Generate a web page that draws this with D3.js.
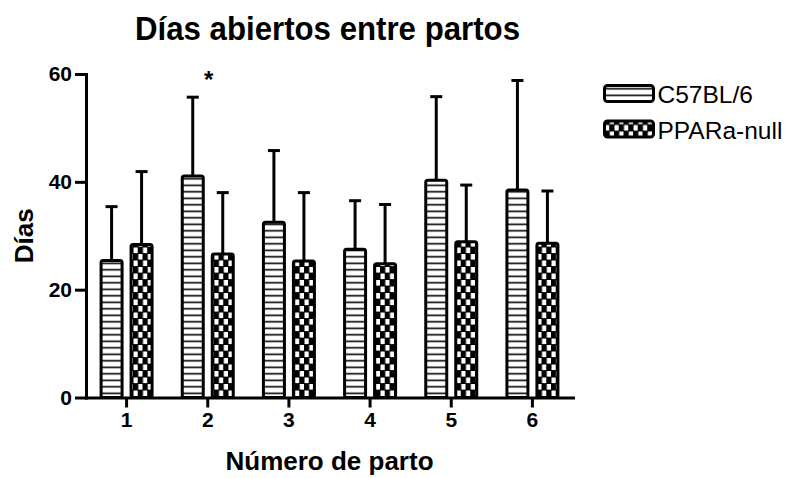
<!DOCTYPE html>
<html>
<head>
<meta charset="utf-8">
<script src="https://cdn.jsdelivr.net/npm/d3@7"></script>
<style>
    body { margin: 0; background: #fff; }
    text { font-family: "Liberation Sans", Arial, sans-serif; fill: #000; }
    .axis path, .axis line { stroke: #000; stroke-width: 3; }
    .axis path { stroke-linecap: square; }
    .axis text { font-size: 21px; font-weight: bold; }
</style>
</head>
<body>
<div id="chart"></div>
<script>
/*
1. DATA
*/
const partos = ["1", "2", "3", "4", "5", "6"];
const series = ["C57BL/6", "PPARa-null"];
const meanC57 = [25.4, 41.1, 32.5, 27.5, 40.3, 38.5];
const errC57 = [10.0, 14.6, 13.3, 9.0, 15.5, 20.3];
const meanPPAR = [28.4, 26.6, 25.3, 24.8, 28.9, 28.6];
const errPPAR = [13.5, 11.4, 12.7, 11.0, 10.5, 9.7];
const yTicks = [0, 20, 40, 60];
const significant = ["2"];   // asterisk above these partos

const data = [];
partos.forEach(function(p, i) {
    data.push({parto: p, serie: series[0], mean: meanC57[i], err: errC57[i]});
    data.push({parto: p, serie: series[1], mean: meanPPAR[i], err: errPPAR[i]});
});

/*
2. SVG CANVAS
*/
const width = 796;
const height = 478;
const margin = {top: 74, left: 86, right: 223, bottom: 80.5};

const svg = d3.select("#chart")
    .append("svg")
    .attr("width", width)
    .attr("height", height);

// fill patterns: stripes for C57BL/6, checks for PPARa-null
const defs = svg.append("defs");

const stripes = defs.append("pattern")
    .attr("id", "stripes")
    .attr("patternUnits", "userSpaceOnUse")
    .attr("width", 8)
    .attr("height", 6.5);
stripes.append("rect").attr("width", 8).attr("height", 6.5).attr("fill", "#fff");
stripes.append("rect").attr("y", 2.5).attr("width", 8).attr("height", 1.6).attr("fill", "#000");

const checks = defs.append("pattern")
    .attr("id", "checks")
    .attr("patternUnits", "userSpaceOnUse")
    .attr("width", 9.5)
    .attr("height", 13);
checks.append("rect").attr("width", 9.5).attr("height", 13).attr("fill", "#000");
checks.append("rect").attr("x", 0.5).attr("y", 0.5).attr("width", 4.2).attr("height", 5.6).attr("fill", "#fff");
checks.append("rect").attr("x", 5.3).attr("y", 7).attr("width", 4.2).attr("height", 5.6).attr("fill", "#fff");

/*
3. SCALES
*/
const xScale = d3.scaleBand()
    .domain(partos)
    .range([margin.left, width - margin.right]);

const xInner = d3.scaleBand()
    .domain(series)
    .range([xScale.bandwidth() / 2 - 25.5, xScale.bandwidth() / 2 + 25.5])
    .paddingInner(0.3);

const yScale = d3.scaleLinear()
    .domain([0, 60])
    .range([height - margin.bottom, margin.top]);

const fillScale = d3.scaleOrdinal()
    .domain(series)
    .range(["url(#stripes)", "url(#checks)"]);

/*
4. ERROR BARS (drawn first so the bars cover the bottom of the line)
*/
const errG = svg.append("g")
    .attr("stroke", "#000")
    .attr("stroke-width", 3);

errG.selectAll("line.whisker")
    .data(data)
    .enter()
    .append("line")
        .attr("class", "whisker")
        .attr("x1", function(d) { return xScale(d.parto) + xInner(d.serie) + xInner.bandwidth() / 2; })
        .attr("x2", function(d) { return xScale(d.parto) + xInner(d.serie) + xInner.bandwidth() / 2; })
        .attr("y1", function(d) { return yScale(d.mean); })
        .attr("y2", function(d) { return yScale(d.mean + d.err); });

errG.selectAll("line.cap")
    .data(data)
    .enter()
    .append("line")
        .attr("class", "cap")
        .attr("x1", function(d) { return xScale(d.parto) + xInner(d.serie) + xInner.bandwidth() / 2 - 6; })
        .attr("x2", function(d) { return xScale(d.parto) + xInner(d.serie) + xInner.bandwidth() / 2 + 6; })
        .attr("y1", function(d) { return yScale(d.mean + d.err); })
        .attr("y2", function(d) { return yScale(d.mean + d.err); });

/*
5. BARS
*/
svg.selectAll("rect.bar")
    .data(data)
    .enter()
    .append("rect")
        .attr("class", "bar")
        .attr("x", function(d) { return xScale(d.parto) + xInner(d.serie); })
        .attr("y", function(d) { return yScale(d.mean); })
        .attr("width", xInner.bandwidth())
        .attr("height", function(d) { return yScale(0) - yScale(d.mean); })
        .attr("rx", 2)
        .attr("fill", function(d) { return fillScale(d.serie); })
        .attr("stroke", "#000")
        .attr("stroke-width", 3);

/*
6. AXES
*/
const xAxis = svg.append("g")
    .attr("class", "axis")
    .attr("transform", `translate(0,${yScale(0)})`)
    .call(d3.axisBottom(xScale).tickSize(10).tickSizeOuter(0).tickPadding(5));

const yAxis = svg.append("g")
    .attr("class", "axis")
    .attr("transform", `translate(${margin.left},0)`)
    .call(d3.axisLeft(yScale).tickValues(yTicks).tickSize(11).tickSizeOuter(0).tickPadding(3));

// significance mark
svg.selectAll("text.star")
    .data(significant)
    .enter()
    .append("text")
        .attr("class", "star")
        .attr("x", function(d) { return xScale(d) + xScale.bandwidth() / 2 + 1; })
        .attr("y", 88)
        .attr("text-anchor", "middle")
        .style("font-size", "24px")
        .style("font-weight", "bold")
        .text("*");

/*
7. TITLES
*/
svg.append("text")
    .attr("x", 327.5)
    .attr("y", 40)
    .attr("text-anchor", "middle")
    .attr("textLength", 385)
    .attr("lengthAdjust", "spacingAndGlyphs")
    .style("font-size", "33px")
    .style("font-weight", "bold")
    .text("Días abiertos entre partos");

svg.append("text")
    .attr("x", (margin.left + width - margin.right) / 2)
    .attr("y", 470)
    .attr("text-anchor", "middle")
    .style("font-size", "26px")
    .style("font-weight", "bold")
    .text("Número de parto");

svg.append("text")
    .attr("transform", `translate(33,${(yScale(0) + yScale(60)) / 2}) rotate(-90)`)
    .attr("text-anchor", "middle")
    .style("font-size", "26px")
    .style("font-weight", "bold")
    .text("Días");

/*
8. LEGEND
*/
const legend = svg.append("g")
    .attr("transform", "translate(604.5,85.5)");

series.forEach(function(s, i) {
    legend.append("rect")
        .attr("x", 0)
        .attr("y", i * 35.5)
        .attr("width", 49)
        .attr("height", 16)
        .attr("rx", 3)
        .attr("fill", fillScale(s))
        .attr("stroke", "#000")
        .attr("stroke-width", 3);

    legend.append("text")
        .attr("x", 53)
        .attr("y", i * 35.5 + 17.5)
        .style("font-size", "24.5px")
        .text(s);
});
</script>
</body>
</html>
